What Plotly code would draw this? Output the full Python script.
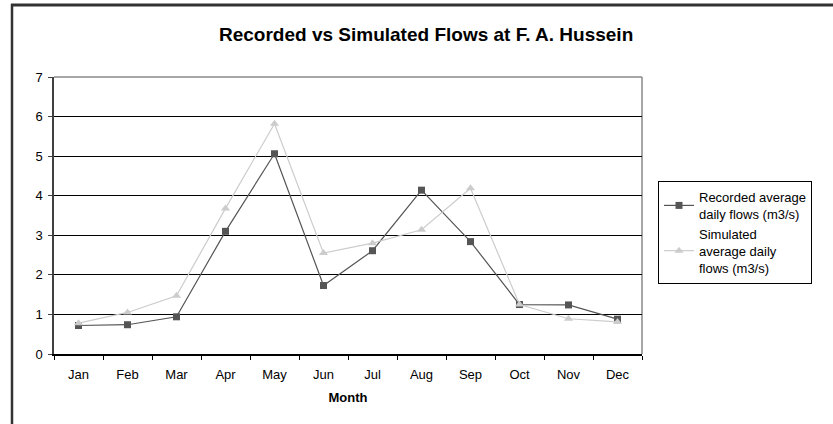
import plotly.graph_objects as go

months = ["Jan", "Feb", "Mar", "Apr", "May", "Jun", "Jul", "Aug", "Sep", "Oct", "Nov", "Dec"]
recorded = [0.72, 0.74, 0.94, 3.10, 5.06, 1.73, 2.61, 4.14, 2.84, 1.25, 1.24, 0.88]
simulated = [0.78, 1.05, 1.47, 3.68, 5.82, 2.55, 2.80, 3.14, 4.19, 1.25, 0.89, 0.81]
y_ticks = [0, 1, 2, 3, 4, 5, 6, 7]

W, H = 833, 424
L, R, T, B = 54, 642, 77, 354  # plot area pixel edges


def px(x):
    return (x - L) / (R - L)


def py(y):
    return (B - y) / (B - T)


fig = go.Figure()
fig.add_trace(go.Scatter(
    x=months, y=recorded, mode="lines+markers",
    name="Recorded average<br>daily flows (m3/s)",
    line=dict(color="#555555", width=1.2),
    marker=dict(symbol="square", size=7, color="#555555"),
))
fig.add_trace(go.Scatter(
    x=months, y=simulated, mode="lines+markers",
    name="Simulated<br>average daily<br>flows (m3/s)",
    line=dict(color="#cccccc", width=1.2),
    marker=dict(symbol="triangle-up", size=8, color="#cccccc"),
))

fig.update_layout(
    width=W, height=H,
    margin=dict(l=L, r=W - R, t=T, b=H - B),
    paper_bgcolor="white", plot_bgcolor="white",
    font=dict(family="Arial, Liberation Sans, sans-serif", size=13, color="black"),
    showlegend=True,
    legend=dict(
        x=px(658), y=py(181), xanchor="left", yanchor="top",
        bordercolor="black", borderwidth=1, bgcolor="white",
        font=dict(size=13), tracegroupgap=2, itemwidth=30,
    ),
    xaxis=dict(
        type="category", categoryorder="array", categoryarray=months,
        range=[-0.5, 11.5],
        showline=True, linecolor="black", linewidth=1.5,
        ticks="outside", tickson="boundaries", ticklen=4, tickcolor="black",
        showgrid=False, zeroline=False, ticklabelstandoff=8,
        title=dict(text="<b>Month</b>", font=dict(size=13), standoff=12),
        tickfont=dict(size=13),
    ),
    yaxis=dict(
        range=[0, 7], tickvals=y_ticks,
        showline=True, linecolor="#404040", linewidth=1.5,
        ticks="outside", ticklen=4, tickcolor="#404040",
        showgrid=True, gridcolor="black", gridwidth=1,
        zeroline=False, tickfont=dict(size=13), ticklabelstandoff=3,
    ),
    annotations=[dict(
        text="<b>Recorded vs Simulated Flows at F. A. Hussein</b>",
        xref="paper", yref="paper", x=px(426), y=py(34),
        xanchor="center", yanchor="middle", showarrow=False,
        font=dict(size=19, color="black"),
    )],
    shapes=[
        # outer chart border: top and left edges
        dict(type="line", xref="paper", yref="paper",
             x0=px(11), x1=px(833), y0=py(5), y1=py(5),
             line=dict(color="#333333", width=3), layer="above"),
        dict(type="line", xref="paper", yref="paper",
             x0=px(12), x1=px(12), y0=py(424), y1=py(4),
             line=dict(color="#333333", width=2.5), layer="above"),
        # plot area top & right border (gray)
        dict(type="line", xref="paper", yref="paper", x0=0, x1=1, y0=1, y1=1,
             line=dict(color="#888888", width=1.5), layer="above"),
        dict(type="line", xref="paper", yref="paper", x0=1, x1=1, y0=0, y1=1,
             line=dict(color="#888888", width=1.5), layer="below"),
    ],
)

fig.write_html("out.html", config={"displayModeBar": False},
               post_script="document.body.style.margin='0';")
